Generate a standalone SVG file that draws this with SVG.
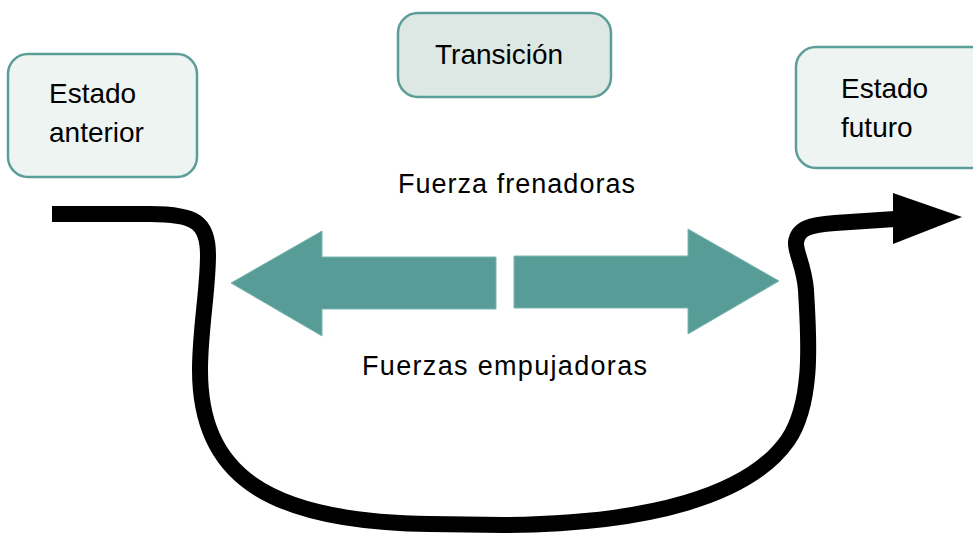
<svg xmlns="http://www.w3.org/2000/svg" width="973" height="533" viewBox="0 0 973 533">
<style>
.box{fill:#EEF4F2;stroke:#5B9E98;stroke-width:2.5}
.box2{fill:#DDE8E4;stroke:#5B9E98;stroke-width:2.5}
.t{font-family:"Liberation Sans",Arial,sans-serif;font-size:28px;fill:#000}
.lbl{font-family:"Liberation Sans",Arial,sans-serif;font-size:27px;fill:#000}
.force{fill:#579C97;stroke:#7DB6B1;stroke-width:1}
.flow{fill:none;stroke:#000;stroke-width:16}
</style>
<rect width="973" height="533" fill="#fff"/>
<g id="estado-anterior">
<rect class="box" x="8" y="54" width="189" height="123" rx="20"/>
<text class="t" x="49" y="103">Estado</text>
<text class="t" x="49" y="142">anterior</text>
</g>
<g id="transicion">
<rect class="box2" x="398" y="13" width="213" height="84" rx="20"/>
<text class="t" x="435" y="64" font-size="27">Transición</text>
</g>
<g id="estado-futuro">
<rect class="box" x="796" y="47" width="200" height="121" rx="20"/>
<text class="t" x="841" y="98">Estado</text>
<text class="t" x="841" y="137">futuro</text>
</g>
<g id="fuerza-frenadoras">
<polygon class="force" points="231,283 322,231 322,257 496,257 496,309 322,309 322,336"/>
<text class="lbl" x="398" y="193" textLength="237" lengthAdjust="spacing">Fuerza frenadoras</text>
</g>
<g id="fuerzas-empujadoras">
<polygon class="force" points="514,256 688,256 688,229 779,281 688,334 688,308 514,308"/>
<text class="lbl" x="362" y="375" textLength="285" lengthAdjust="spacing">Fuerzas empujadoras</text>
</g>
<g id="connectors">
<path class="flow" d="M52,214 L150,214 C195,214 208,222 208,255 C208,290 200,330 200,370 C200,470 260,522 430,524 L503,525 C650,524 750,495 788,440 C815,400 808,330 806,290 C804,265 795,252 796,242 C798,228 810,225 835,223 L895,219"/>
<polygon points="893,193 962,217 893,244" fill="#000"/>
</g>
</svg>
